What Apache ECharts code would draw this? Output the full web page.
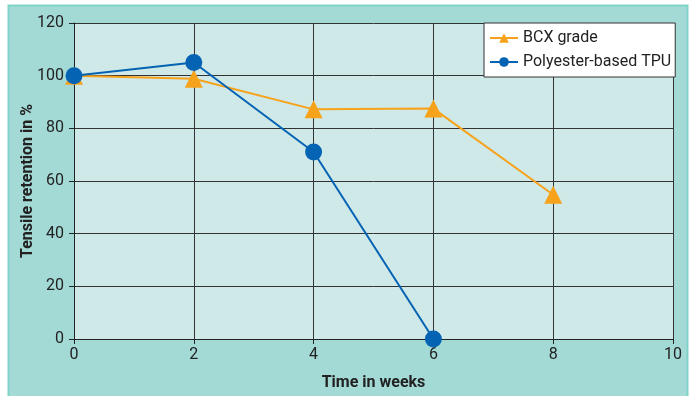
<!DOCTYPE html>
<html><head><meta charset="utf-8">
<script src="https://cdn.jsdelivr.net/npm/echarts@6/dist/echarts.min.js"></script>
<style>html,body{margin:0;padding:0;background:#fff}#c{width:696px;height:396px}</style>
</head><body><div id="c"></div>
<script>
const weeks = [0, 2, 4, 6, 8, 10];
const bcxWeeks = [0, 2, 4, 6, 8];
const bcxValues = [100, 98.8, 87.2, 87.5, 54.8];
const tpuWeeks = [0, 2, 4, 6];
const tpuValues = [100, 105, 71, 0];
const yTicks = [0, 20, 40, 60, 80, 100, 120];

const font = 'Roboto, "Open Sans", sans-serif';
const chart = echarts.init(document.getElementById('c'));
chart.setOption({
  animation: false,
  graphic: [{
    type: 'rect', z: -10, silent: true,
    shape: { x: 8.5, y: 5.5, width: 679, height: 400 },
    style: { fill: '#a4dad6', stroke: '#7ed3ca', lineWidth: 2 }
  }],
  grid: { left: 74, right: 23, top: 23, bottom: 57, show: true, backgroundColor: '#cfe8e8', borderWidth: 0 },
  legend: {
    left: 484, top: 23, orient: 'vertical',
    backgroundColor: '#ffffff', borderColor: '#333', borderWidth: 1,
    padding: [7, 4, 7, 5], itemGap: 8, itemWidth: 28, itemHeight: 12,
    textStyle: { fontFamily: font, fontSize: 16, color: '#222' },
    data: ['BCX grade', 'Polyester-based TPU']
  },
  xAxis: {
    type: 'value', min: 0, max: 10, interval: 2,
    name: 'Time in weeks', nameLocation: 'middle', nameGap: 36,
    nameTextStyle: { fontFamily: font, fontSize: 16, fontWeight: 'bold', color: '#222' },
    axisLine: { show: true, lineStyle: { color: '#222', width: 1 } },
    axisTick: { show: true, length: 5, lineStyle: { color: '#222' } },
    axisLabel: { fontFamily: font, fontSize: 16, color: '#222', margin: 8 },
    splitLine: { show: true, lineStyle: { color: '#333', width: 1 } }
  },
  yAxis: {
    type: 'value', min: 0, max: 120, interval: 20,
    name: 'Tensile retention in %', nameLocation: 'middle', nameGap: 38, nameMoveOverlap: false,
    nameTextStyle: { fontFamily: font, fontSize: 16, fontWeight: 'bold', color: '#222' },
    axisLine: { show: true, lineStyle: { color: '#222', width: 1 } },
    axisTick: { show: true, length: 5, lineStyle: { color: '#222' } },
    axisLabel: { fontFamily: font, fontSize: 16, color: '#222', margin: 10,
      formatter: v => yTicks.includes(v) ? String(v) : '' },
    splitLine: { show: true, lineStyle: { color: '#333', width: 1 } }
  },
  series: [
    {
      name: 'BCX grade', type: 'line', symbol: 'triangle', symbolSize: 18,
      data: bcxWeeks.map((w, i) => [w, bcxValues[i]]),
      lineStyle: { color: '#f7a21b', width: 2 }, itemStyle: { color: '#f7a21b' }, z: 2
    },
    {
      name: 'Polyester-based TPU', type: 'line', symbol: 'circle', symbolSize: 17,
      data: tpuWeeks.map((w, i) => [w, tpuValues[i]]),
      lineStyle: { color: '#0563b3', width: 2 }, itemStyle: { color: '#0563b3' }, z: 3
    }
  ]
});
</script></body></html>
